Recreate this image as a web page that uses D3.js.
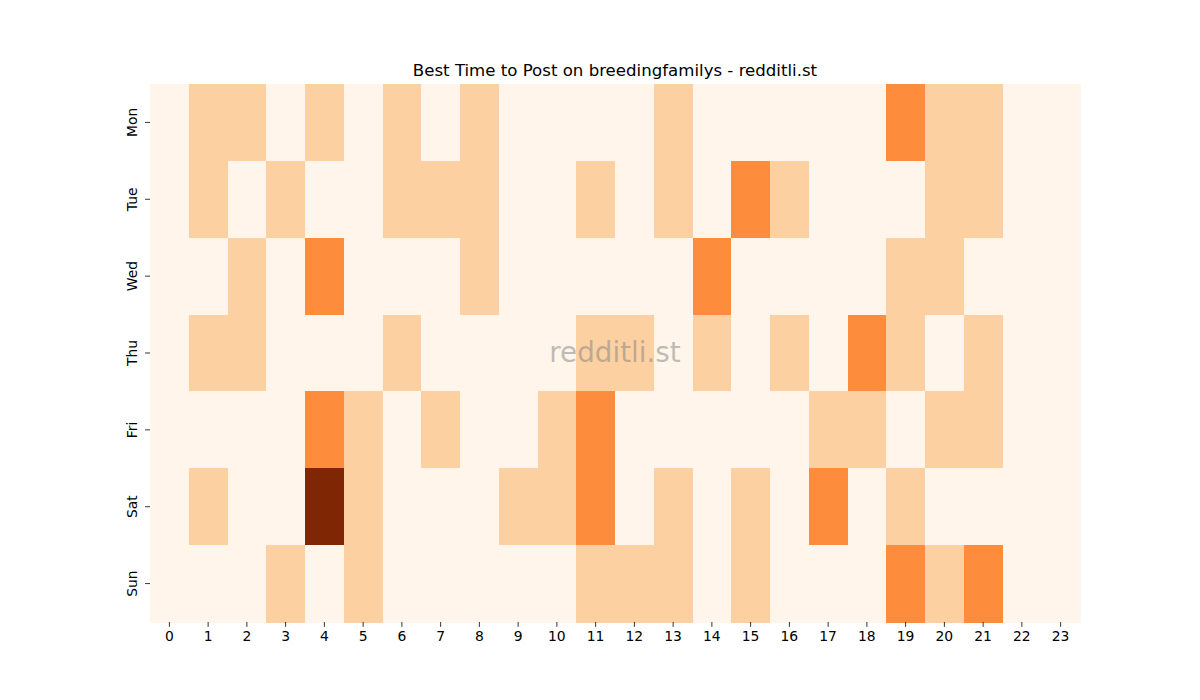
<!DOCTYPE html>
<html><head><meta charset="utf-8">
<script src="https://cdn.jsdelivr.net/npm/d3@7"></script>
<style>body{margin:0;background:#fff}svg{display:block}text{font-family:"DejaVu Sans",sans-serif}</style>
</head><body><svg id="c" width="1200" height="700"></svg>
<script>
const days = ["Mon","Tue","Wed","Thu","Fri","Sat","Sun"];
const hours = d3.range(24).map(String);
const mon = [0,1,1,0,1,0,1,0,1,0,0,0,0,1,0,0,0,0,0,2,1,1,0,0];
const tue = [0,1,0,1,0,0,1,1,1,0,0,1,0,1,0,2,1,0,0,0,1,1,0,0];
const wed = [0,0,1,0,2,0,0,0,1,0,0,0,0,0,2,0,0,0,0,1,1,0,0,0];
const thu = [0,1,1,0,0,0,1,0,0,0,0,1,1,0,1,0,1,0,2,1,0,1,0,0];
const fri = [0,0,0,0,2,1,0,1,0,0,1,2,0,0,0,0,0,1,1,0,1,1,0,0];
const sat = [0,1,0,0,4,1,0,0,0,1,1,2,0,1,0,1,0,2,0,1,0,0,0,0];
const sun = [0,0,0,1,0,1,0,0,0,0,0,1,1,1,0,1,0,0,0,2,1,2,0,0];
const rows = [mon,tue,wed,thu,fri,sat,sun];
const title = "Best Time to Post on breedingfamilys - redditli.st";
const watermark = "redditli.st";

const oranges = ["#fff5eb","#fee6ce","#fdd0a2","#fdae6b","#fd8d3c","#f16913","#d94801","#a63603","#7f2704"];
const color = d3.scaleLinear().domain(d3.range(9).map(i => i*4/8)).range(oranges).clamp(true);

const L=150,R=1080,T=84,B=622;
const svg = d3.select("#c");
const x = d3.scaleBand().domain(hours).range([L,R]);
const y = d3.scaleBand().domain(days).range([T,B]);

const cells = [];
rows.forEach((r,i)=>r.forEach((v,j)=>cells.push({d:days[i],h:hours[j],v})));
svg.append("g").selectAll("rect").data(cells).join("rect")
  .attr("x",d=>x(d.h)).attr("y",d=>y(d.d))
  .attr("width",x.bandwidth()+0.5).attr("height",y.bandwidth()+0.5)
  .attr("fill",d=>color(d.v)).attr("shape-rendering","crispEdges");

const xa = svg.append("g").attr("transform",`translate(0,${B})`).call(d3.axisBottom(x).tickSize(4.9).tickPadding(4));
xa.select(".domain").remove();
xa.selectAll("text").attr("font-size","13.9px").attr("fill","#000").attr("font-family","DejaVu Sans");
xa.selectAll("line").attr("stroke","#000").attr("stroke-width",0.8);

const ya = svg.append("g").attr("transform",`translate(${L},0)`).call(d3.axisLeft(y).tickSize(4.9).tickPadding(4));
ya.select(".domain").remove();
ya.selectAll("line").attr("stroke","#000").attr("stroke-width",0.8);
ya.selectAll("text").attr("font-size","13.9px").attr("fill","#000").attr("font-family","DejaVu Sans")
  .attr("text-anchor","middle").attr("dy",null).attr("x",null)
  .attr("transform","translate(-13,0) rotate(-90)").attr("dominant-baseline","auto").attr("y",0);

svg.append("text").attr("x",(L+R)/2).attr("y",76).attr("text-anchor","middle")
  .attr("font-size","16.6px").attr("fill","#000").text(title);

svg.append("text").attr("x",(L+R)/2).attr("y",362).attr("text-anchor","middle")
  .attr("font-size","27.8px").attr("fill","#808080").attr("fill-opacity",0.5).text(watermark);
</script></body></html>
